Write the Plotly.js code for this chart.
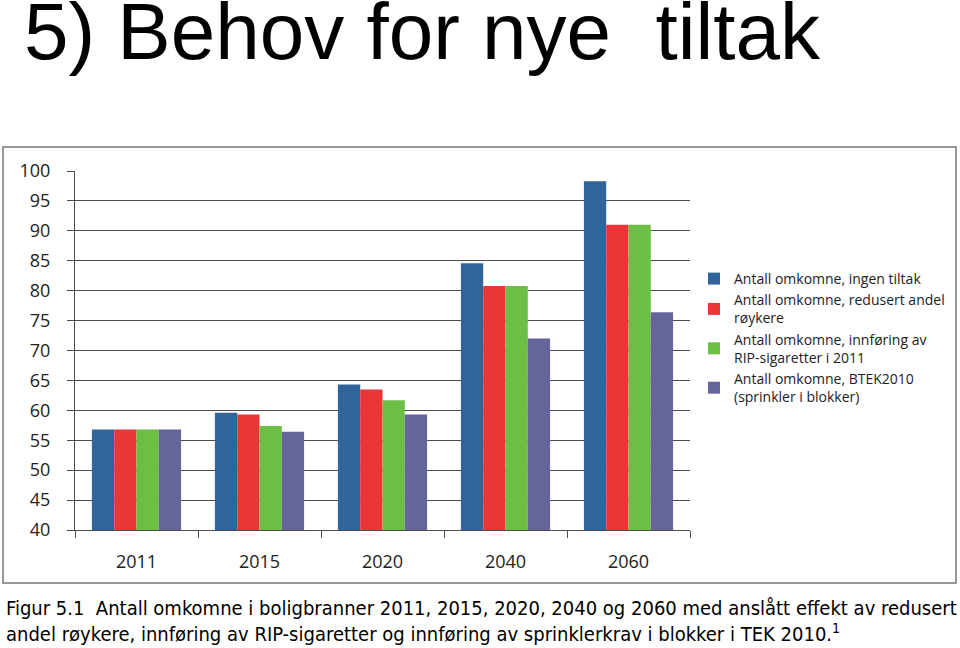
<!DOCTYPE html>
<html>
<head>
<meta charset="utf-8">
<script src="https://cdn.plot.ly/plotly-3.0.1.min.js"></script>
<style>html,body{margin:0;padding:0;background:#fff;}</style>
</head>
<body>
<div id="chart" style="width:960px;height:648px;"></div>
<script>
const years = ["2011", "2015", "2020", "2040", "2060"];
const seriesNames = [
  "Antall omkomne, ingen tiltak",
  "Antall omkomne, redusert andel<br>røykere",
  "Antall omkomne, innføring av<br>RIP-sigaretter i 2011",
  "Antall omkomne, BTEK2010<br>(sprinkler i blokker)"
];
const ingenTiltak   = [56.8, 59.6, 64.3, 84.6, 98.3];
const redusertRoyk  = [56.8, 59.3, 63.5, 80.8, 91.0];
const ripSigaretter = [56.8, 57.4, 61.7, 80.8, 91.0];
const btek2010      = [56.8, 56.4, 59.3, 72.0, 76.4];
const colors = ["#30649b", "#ec3537", "#6cbe45", "#66659b"];
const yTicks = [40, 45, 50, 55, 60, 65, 70, 75, 80, 85, 90, 95, 100];

const allSeries = [ingenTiltak, redusertRoyk, ripSigaretter, btek2010];
const traces = allSeries.map((vals, i) => ({
  type: "bar",
  x: years,
  y: vals,
  name: seriesNames[i],
  marker: {color: colors[i], line: {width: 0}},
  base: 0
}));

// plot area in px: x 75..690, y 171..530
const L = 75, R = 690, T = 171, B = 530;
const px = v => (v - L) / (R - L);
const py = v => (B - v) / (B - T);

const font = "Open Sans, Noto Sans, sans-serif";
const layout = {
  width: 960, height: 648,
  margin: {l: L, r: 960 - R, t: T, b: 648 - B, pad: 0, autoexpand: false},
  paper_bgcolor: "#ffffff",
  plot_bgcolor: "#ffffff",
  barmode: "group",
  bargap: 0.275,
  bargroupgap: 0,
  showlegend: true,
  title: {
    text: "5) Behov for nye  tiltak",
    font: {family: "Liberation Sans, Arial, sans-serif", size: 80, color: "#000"},
    xref: "container", yref: "container",
    x: 24 / 960, xanchor: "left",
    y: 1 - 31 / 648, yanchor: "middle"
  },
  xaxis: {
    type: "category",
    tickson: "boundaries",
    ticks: "outside", ticklen: 7, tickcolor: "#4d4d4d", tickwidth: 1,
    showline: true, linecolor: "#4d4d4d", linewidth: 1,
    showgrid: false,
    tickfont: {family: font, size: 18, color: "#222"},
    ticklabelstandoff: 15,
    automargin: false,
    fixedrange: true
  },
  yaxis: {
    range: [40, 100],
    tickvals: yTicks,
    ticktext: yTicks.map(String),
    ticks: "outside", ticklen: 7, tickcolor: "#4d4d4d", tickwidth: 1,
    showline: true, linecolor: "#4d4d4d", linewidth: 1,
    showgrid: true, gridcolor: "#4d4d4d", gridwidth: 1,
    zeroline: false,
    tickfont: {family: font, size: 18, color: "#222"},
    ticklabelstandoff: 13,
    automargin: false,
    fixedrange: true
  },
  legend: {
    xref: "container", yref: "container",
    x: 694 / 960, xanchor: "left",
    y: 1 - 263 / 648, yanchor: "top",
    font: {family: font, size: 14, color: "#222"},
    bgcolor: "rgba(0,0,0,0)",
    itemwidth: 30,
    tracegroupgap: 0,
    traceorder: "normal"
  },
  shapes: [{
    type: "rect", xref: "paper", yref: "paper",
    x0: px(3), x1: px(956), y0: py(583), y1: py(147),
    line: {color: "#777", width: 1.5}, layer: "below"
  }],
  annotations: [{
    xref: "paper", yref: "paper",
    x: px(4), xanchor: "left",
    y: py(621), yanchor: "middle",
    align: "left",
    showarrow: false,
    text: "Figur 5.1  Antall omkomne i boligbranner 2011, 2015, 2020, 2040 og 2060 med anslått effekt av redusert<br>andel røykere, innføring av RIP-sigaretter og innføring av sprinklerkrav i blokker i TEK 2010.<sup>1</sup>",
    font: {family: "DejaVu Sans Condensed, sans-serif", size: 20, color: "#000"}
  }]
};

Plotly.newPlot("chart", traces, layout, {displayModeBar: false, staticPlot: true});
</script>
</body>
</html>
